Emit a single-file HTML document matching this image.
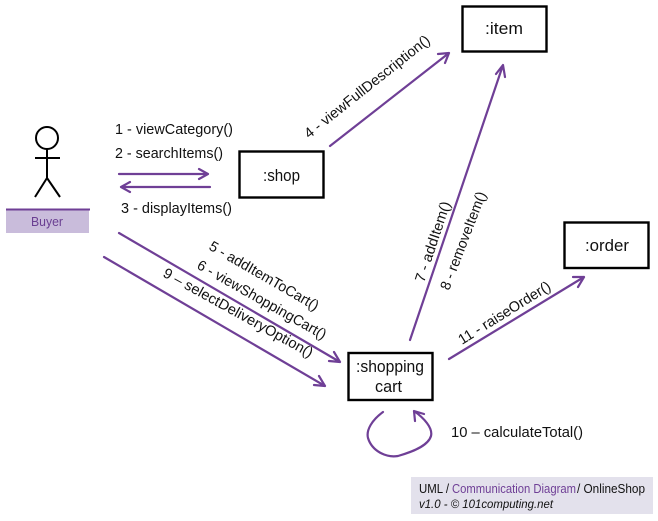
<!DOCTYPE html>
<html><head><meta charset="utf-8">
<style>
html,body{margin:0;padding:0;background:#fff;width:658px;height:521px;overflow:hidden}
svg{display:block}
text{font-family:"Liberation Sans",sans-serif;font-size:14.5px;fill:#111}
.a{fill:none;stroke:#6f3f96;stroke-width:2.2;stroke-linecap:round;stroke-linejoin:round}
.b{fill:#fff;stroke:#000;stroke-width:2.4}
.k{fill:none;stroke:#000;stroke-width:2}
.n{font-size:16.5px}
</style></head><body>
<svg width="658" height="521" viewBox="0 0 658 521" xmlns="http://www.w3.org/2000/svg">
<rect width="658" height="521" fill="#fff"/>
<!-- actor -->
<circle cx="47" cy="138" r="11" class="k"/>
<path d="M47 149V178M35 158H60M47 178L35 197M47 178L60 197" class="k"/>
<rect x="6" y="210" width="83" height="23" fill="#c9bcdb"/>
<path d="M6 209.500H90" stroke="#6f3f96" stroke-width="2"/>
<text x="31" y="226" style="fill:#6a3f92;font-size:13px" textLength="32" lengthAdjust="spacingAndGlyphs">Buyer</text>
<!-- boxes -->
<rect x="239.500" y="151.500" width="84" height="46" class="b"/>
<rect x="462.500" y="6.500" width="84" height="45" class="b"/>
<rect x="564.500" y="222.500" width="84" height="45.500" class="b"/>
<rect x="348.500" y="353" width="84" height="47" class="b"/>
<text class="n" x="263" y="181" textLength="37" lengthAdjust="spacingAndGlyphs">:shop</text>
<text class="n" x="485" y="34" textLength="38" lengthAdjust="spacingAndGlyphs">:item</text>
<text class="n" x="585" y="251" textLength="44" lengthAdjust="spacingAndGlyphs">:order</text>
<text class="n" x="356" y="372" textLength="68" lengthAdjust="spacingAndGlyphs">:shopping</text>
<text class="n" x="375" y="392" textLength="27" lengthAdjust="spacingAndGlyphs">cart</text>
<!-- arrows -->
<path class="a" d="M119 174H208M199 169L208 174L199 179"/>
<path class="a" d="M210 187H121M130 182L121 187L130 192"/>
<path class="a" d="M330 146L449 53M438 54L449 53L445 63"/>
<path class="a" d="M410 340L503 65M496 74L503 65L505 77"/>
<path class="a" d="M449 359L584 277M573 277L584 277L578 287"/>
<path class="a" d="M119 233L340 362M329 361L340 362L334 352"/>
<path class="a" d="M104 257L325 386M314 385L325 386L319 376"/>
<path class="a" d="M383 412C372 420 366 430 368 438C372 451 386 458 398 456C412 452 428 446 431 436C433 428 424 418 414 411M415 421L414 411L424 414"/>
<!-- labels -->
<text x="115" y="134" textLength="118" lengthAdjust="spacingAndGlyphs">1 - viewCategory()</text>
<text x="115" y="158" textLength="108" lengthAdjust="spacingAndGlyphs">2 - searchItems()</text>
<text x="121" y="213" textLength="111" lengthAdjust="spacingAndGlyphs">3 - displayItems()</text>
<text transform="translate(309 139) rotate(-38.500)" textLength="156" lengthAdjust="spacingAndGlyphs">4 - viewFullDescription()</text>
<text transform="translate(208 249) rotate(30)" textLength="124" lengthAdjust="spacingAndGlyphs">5 - addItemToCart()</text>
<text transform="translate(196 268) rotate(29.500)" textLength="146" lengthAdjust="spacingAndGlyphs">6 - viewShoppingCart()</text>
<text transform="translate(162 276) rotate(29)" textLength="169" lengthAdjust="spacingAndGlyphs">9 – selectDeliveryOption()</text>
<text transform="translate(424 283) rotate(-71.500)" textLength="84" lengthAdjust="spacingAndGlyphs">7 - addItem()</text>
<text transform="translate(449 291) rotate(-69)" textLength="104" lengthAdjust="spacingAndGlyphs">8 - removeItem()</text>
<text transform="translate(462 345) rotate(-32)" textLength="106" lengthAdjust="spacingAndGlyphs">11 - raiseOrder()</text>
<text x="451" y="437" textLength="132" lengthAdjust="spacingAndGlyphs">10 – calculateTotal()</text>
<!-- footer -->
<rect x="411" y="477" width="242" height="37" fill="#e3e1ec"/>
<text x="419" y="493" style="font-size:12.500px" textLength="30" lengthAdjust="spacingAndGlyphs">UML /</text>
<text x="452" y="493" style="font-size:12.500px;fill:#6f3f96" textLength="124" lengthAdjust="spacingAndGlyphs">Communication Diagram</text>
<text x="577" y="493" style="font-size:12.500px" textLength="68" lengthAdjust="spacingAndGlyphs">/ OnlineShop</text>
<text x="419" y="508" style="font-size:12px;font-style:italic" textLength="134" lengthAdjust="spacingAndGlyphs">v1.0  - © 101computing.net</text>
</svg>
</body></html>
